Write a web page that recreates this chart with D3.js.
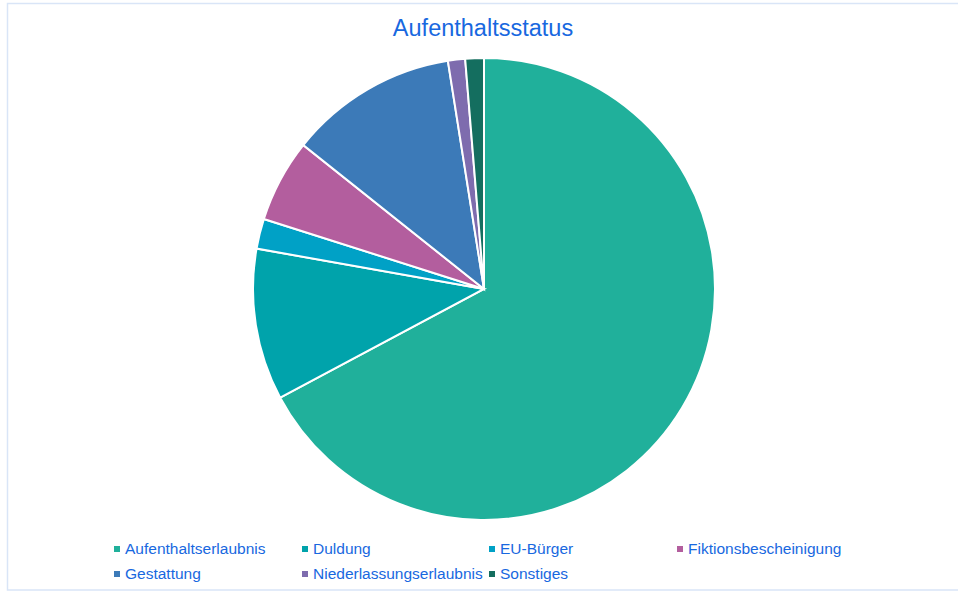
<!doctype html>
<html lang="de">
<head>
  <meta charset="utf-8">
  <title>Aufenthaltsstatus</title>
  <script src="https://cdn.jsdelivr.net/npm/d3@7"></script>
  <style>
    body { margin: 0; background: #fff; font-family: "Liberation Sans", Arial, sans-serif; }
  </style>
</head>
<body>
  <div id="chart"></div>
  <script>
    // Werte in Prozent
    const categories = ["Aufenthaltserlaubnis", "Duldung", "EU-Bürger", "Fiktionsbescheinigung",
      "Gestattung", "Niederlassungserlaubnis", "Sonstiges"];
    const values = [67.2, 10.6, 2.1, 5.8, 11.8, 1.2, 1.3];
    const colors = ["#20b09b", "#00a3ab", "#00a1c6", "#b35e9e", "#3c7ab8", "#7e6cae", "#146e5f"];

    const w = 958;
    const h = 592;
    const cx = 484;
    const cy = 289;
    const radius = 231;
    const TEXT_BLUE = "#1868e0";

    const data = categories.map((name, i) => ({ name, value: values[i], color: colors[i] }));

    const svg = d3.select("#chart")
      .append("svg")
      .attr("width", w)
      .attr("height", h);

    // Rahmen
    svg.append("rect")
      .attr("x", 7.5)
      .attr("y", 3.5)
      .attr("width", w)
      .attr("height", 586.5)
      .style("fill", "none")
      .style("stroke", "#d9e5f7")
      .style("stroke-width", 1.5);

    // Titel
    svg.append("text")
      .attr("x", 483)
      .attr("y", 36)
      .style("text-anchor", "middle")
      .style("fill", TEXT_BLUE)
      .style("font-size", "23.5px")
      .text("Aufenthaltsstatus");

    const pie = d3.pie()
      .sort(null)
      .value(d => d.value);

    const arc = d3.arc()
      .innerRadius(0)
      .outerRadius(radius);

    svg.append("g")
      .attr("transform", `translate(${cx}, ${cy})`)
      .selectAll("path")
      .data(pie(data))
      .join("path")
      .attr("d", arc)
      .style("fill", d => d.data.color)
      .style("stroke", "#fff")
      .style("stroke-width", 2);

    // Legende
    const colX = [114, 302, 489, 677];
    const rowY = [549, 574];

    const legend = svg.append("g")
      .selectAll("g")
      .data(data)
      .join("g")
      .attr("transform", (d, i) => `translate(${colX[i % 4]}, ${rowY[Math.floor(i / 4)]})`);

    legend.append("rect")
      .attr("x", 0)
      .attr("y", -3)
      .attr("width", 6)
      .attr("height", 6)
      .style("fill", d => d.color);

    legend.append("text")
      .attr("x", 11)
      .attr("y", 0)
      .attr("dy", "0.35em")
      .style("fill", TEXT_BLUE)
      .style("font-size", "15.5px")
      .text(d => d.name);
  </script>
</body>
</html>
